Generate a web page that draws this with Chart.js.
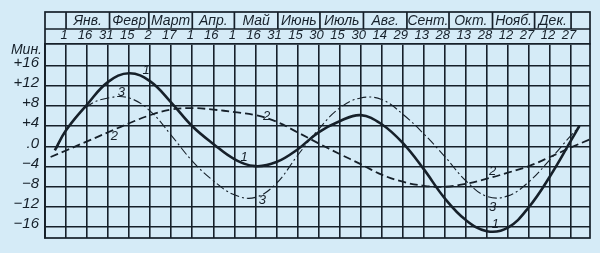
<!DOCTYPE html>
<html>
<head>
<meta charset="utf-8">
<script src="https://cdn.jsdelivr.net/npm/chart.js@4.4.0/dist/chart.umd.min.js"></script>
<style>
  html, body { margin: 0; padding: 0; background: #d5ebf7; }
</style>
</head>
<body>
<canvas id="chart" width="600" height="253"></canvas>
<script>
// Curve 1: equation of time (days from Jan 1, minutes)
const days1 = [-8, 0, 15, 30, 45, 60, 75, 90, 105, 120, 135, 150, 165, 180, 195, 210, 225, 240, 255, 270, 285, 300, 315, 330, 345, 360, 366];
const minutes1 = [-0.8, 3.2, 8.3, 12.8, 14.5, 12.9, 8.7, 4.0, 0.5, -2.5, -3.9, -3.1, -0.6, 2.8, 5.0, 6.2, 4.4, 0.7, -4.5, -10.3, -14.6, -16.8, -16.1, -12.0, -5.9, 1.2, 4.1];

// Curve 2: dashed
const days2 = [-11, 0, 15, 30, 45, 60, 75, 90, 105, 120, 135, 150, 165, 180, 195, 210, 225, 240, 255, 270, 285, 300, 315, 330, 345, 360, 373.5];
const minutes2 = [-2.1, -0.8, 1.0, 2.8, 4.6, 6.2, 7.3, 7.6, 7.3, 6.8, 6.2, 4.9, 2.8, 0.6, -1.5, -3.5, -5.6, -7.0, -7.8, -8.0, -7.4, -6.4, -5.2, -3.9, -2.1, -0.2, 1.4];

// Curve 3: dash-dot
const days3 = [-7, 0, 15, 30, 45, 60, 75, 90, 105, 120, 135, 150, 165, 180, 195, 210, 225, 240, 255, 270, 285, 300, 315, 330, 345, 360, 366];
const minutes3 = [-0.5, 3.3, 7.9, 9.6, 9.6, 7.0, 2.2, -2.9, -6.8, -9.6, -10.1, -7.3, -1.8, 3.4, 7.6, 9.6, 9.3, 6.4, 2.5, -2.0, -6.8, -9.9, -9.8, -7.0, -2.6, 2.2, 3.9];

// Axis ticks
const dateTicks = [-15, 0, 15, 30, 45, 60, 75, 90, 105, 120, 135, 150, 165, 180, 195, 210, 225, 240, 255, 270, 285, 300, 315, 330, 345, 360];
const dateLabels = ['', '1', '16', '31', '15', '2', '17', '1', '16', '1', '16', '31', '15', '30', '15', '30', '14', '29', '13', '28', '13', '28', '12', '27', '12', '27'];
const minuteTicks = [-16, -12, -8, -4, 0, 4, 8, 12, 16];
const minuteLabels = ['\u221216', '\u221212', '\u22128', '\u22124', '.0', '+4', '+8', '+12', '+16'];

// Month header
const monthNames = ['Янв.', 'Февр', 'Март', 'Апр.', 'Май', 'Июнь', 'Июль', 'Авг.', 'Сент.', 'Окт.', 'Нояб.', 'Дек.'];
const monthStarts = [0, 31, 59, 90, 120, 151, 181, 212, 243, 273, 304, 334, 360];

// Curve numbers written on the chart
const tagTexts = ['1', '3', '2', '2', '1', '3', '2', '3', '1'];
const tagDays = [57, 39.5, 34.5, 143, 127, 140, 304, 304, 306];
const tagMinutes = [15.0, 10.7, 2.0, 6.0, -2.1, -10.7, -4.9, -12.1, -15.4];

const ink = '#16202a';
const italic = size => ({ family: "'Liberation Sans', 'DejaVu Sans', sans-serif", size: size, style: 'italic' });

const toPoints = (xs, ys) => xs.map((x, i) => ({ x: x, y: ys[i] }));

const headerPlugin = {
    id: 'header',
    afterDraw(chart) {
        const ctx = chart.ctx;
        const xs = chart.scales.x;
        const ys = chart.scales.y;
        const area = chart.chartArea;
        const top = xs.top;
        const mid = top + 17;

        ctx.save();
        ctx.strokeStyle = ink;
        ctx.lineWidth = 1.7;
        // frame round the plot and the header
        ctx.strokeRect(area.left, top, area.right - area.left, area.bottom - top);
        ctx.beginPath();
        ctx.moveTo(area.left, mid);
        ctx.lineTo(area.right, mid);
        monthStarts.forEach(d => {
            const px = xs.getPixelForValue(d);
            ctx.moveTo(px, top);
            ctx.lineTo(px, mid);
        });
        ctx.stroke();

        ctx.fillStyle = ink;
        ctx.font = "italic 14px 'Liberation Sans', 'DejaVu Sans', sans-serif";
        ctx.textAlign = 'center';
        ctx.textBaseline = 'middle';
        monthNames.forEach((m, i) => {
            const a = xs.getPixelForValue(monthStarts[i]);
            const b = xs.getPixelForValue(monthStarts[i + 1]);
            ctx.fillText(m, (a + b) / 2, top + 9);
        });

        // units label
        ctx.font = "italic 14px 'Liberation Sans', 'DejaVu Sans', sans-serif";
        ctx.textAlign = 'right';
        ctx.fillText('Мин.', area.left - 3, area.top + 6);

        // curve numbers
        ctx.font = "italic 13px 'Liberation Sans', 'DejaVu Sans', sans-serif";
        ctx.textAlign = 'center';
        tagTexts.forEach((t, i) => {
            ctx.fillText(t, xs.getPixelForValue(tagDays[i]), ys.getPixelForValue(tagMinutes[i]));
        });
        ctx.restore();
    }
};

new Chart(document.getElementById('chart').getContext('2d'), {
    type: 'line',
    data: {
        datasets: [
            {
                label: '1',
                data: toPoints(days1, minutes1),
                borderColor: ink,
                borderWidth: 2.6,
                pointRadius: 0,
                tension: 0.4,
                fill: false
            },
            {
                label: '2',
                data: toPoints(days2, minutes2),
                borderColor: ink,
                borderWidth: 1.8,
                borderDash: [8, 4],
                pointRadius: 0,
                tension: 0.4,
                fill: false
            },
            {
                label: '3',
                data: toPoints(days3, minutes3),
                borderColor: ink,
                borderWidth: 1.1,
                borderDash: [9, 3, 2, 3],
                pointRadius: 0,
                tension: 0.4,
                fill: false
            }
        ]
    },
    options: {
        responsive: false,
        animation: false,
        layout: { padding: { top: 12, right: 10, bottom: 12, left: 0 } },
        plugins: {
            legend: { display: false },
            tooltip: { enabled: false }
        },
        scales: {
            x: {
                type: 'linear',
                position: 'top',
                min: -15,
                max: 373.5,
                afterBuildTicks: s => { s.ticks = dateTicks.map(v => ({ value: v })); },
                afterFit: s => { s.height = 32; },
                ticks: {
                    autoSkip: false,
                    maxRotation: 0,
                    color: ink,
                    font: italic(13),
                    padding: 1,
                    labelOffset: -2,
                    callback: v => dateLabels[dateTicks.indexOf(v)]
                },
                grid: { color: ink, lineWidth: 1.6, drawTicks: false },
                border: { color: ink, width: 1.7 }
            },
            y: {
                type: 'linear',
                min: -18.15,
                max: 20.3,
                afterBuildTicks: s => { s.ticks = minuteTicks.map(v => ({ value: v })); },
                afterFit: s => { s.width = 45; },
                ticks: {
                    color: ink,
                    font: italic(15),
                    padding: 6,
                    labelOffset: -3,
                    callback: v => minuteLabels[minuteTicks.indexOf(v)]
                },
                grid: { color: ink, lineWidth: 1.6, drawTicks: false },
                border: { color: ink, width: 1.7 }
            }
        }
    },
    plugins: [headerPlugin]
});
</script>
</body>
</html>
